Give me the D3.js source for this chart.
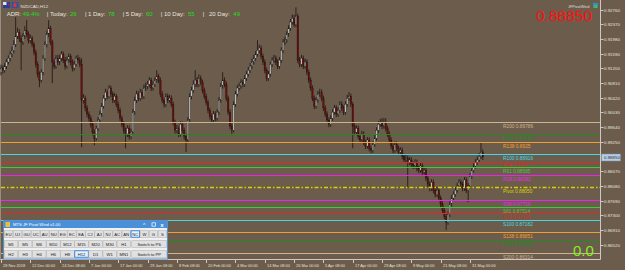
<!DOCTYPE html>
<html><head><meta charset="utf-8">
<script src="https://cdn.jsdelivr.net/npm/d3@7"></script>
<style>html,body{margin:0;padding:0;background:#6c5c4c;overflow:hidden}svg{display:block}</style>
</head><body><svg id="c" width="625" height="270"></svg>
<script>
// ---------- DATA ----------
const symbol = "NZDCAD,H12";
const firstOpen = 0.9110;
const closes = [
.9121,.9115,.9126,.9137,.9147,.9158,.9168,.9184,.9206,.9216,.9200,.9190,.9206,.9221,.9211,.9195,
.9200,.9184,.9163,.9131,.9105,.9089,.9110,.9147,.9184,.9211,.9227,.9190,.9137,.9126,.9147,.9137,
.9147,.9158,.9142,.9126,.9142,.9152,.9137,.9121,.9131,.9147,.9142,.9131,.9036,.9041,.9015,.8999,
.8988,.8972,.8951,.8935,.8961,.8983,.8999,.9020,.9041,.9057,.9046,.9068,.9052,.9036,.9046,.9025,
.9009,.8988,.8972,.8956,.8946,.8961,.8940,.8951,.9004,.9036,.9052,.9041,.9057,.9046,.9068,.9073,
.9078,.9089,.9068,.9078,.9089,.9099,.9089,.9052,.9036,.9025,.9046,.9036,.9041,.9025,.8977,.8956,
.8961,.8946,.8972,.8956,.8940,.8930,.8983,.9046,.9062,.9078,.9089,.9078,.9094,.9083,.9062,.9046,
.9030,.9009,.8993,.8983,.8999,.8988,.9004,.9036,.9073,.9089,.9078,.9041,.9004,.8967,.8956,.9025,
.9052,.9068,.9073,.9083,.9078,.9094,.9105,.9115,.9126,.9137,.9147,.9158,.9168,.9174,.9152,.9137,
.9115,.9094,.9105,.9131,.9142,.9147,.9137,.9126,.9142,.9168,.9190,.9195,.9211,.9227,.9243,.9253,
.9237,.9259,.9142,.9131,.9147,.9126,.9137,.9110,.9089,.9068,.9041,.9020,.9036,.9052,.9057,.9041,
.9015,.8999,.8983,.8972,.8988,.9004,.9015,.8999,.9009,.9025,.9015,.9004,.9025,.9041,.9046,.9025,
.8967,.8951,.8961,.8940,.8930,.8946,.8924,.8914,.8930,.8908,.8903,.8919,.8935,.8956,.8972,.8977,
.8967,.8977,.8961,.8946,.8930,.8914,.8903,.8919,.8908,.8898,.8903,.8887,.8877,.8882,.8871,.8877,
.8866,.8861,.8871,.8855,.8850,.8861,.8845,.8850,.8829,.8813,.8802,.8818,.8797,.8786,.8797,.8776,
.8760,.8744,.8728,.8712,.8733,.8760,.8776,.8786,.8797,.8808,.8818,.8813,.8802,.8824,.8797,.8808,.8834,.8850,.8861,.8871,.8877,.8887,.8898,.8885];
const highs = [
.9130,.9128,.9134,.9145,.9155,.9166,.9178,.9195,.9256,.9228,.9224,.9208,.9214,.9232,.9248,.9218,
.9210,.9206,.9190,.9170,.9138,.9112,.9118,.9155,.9192,.9220,.9248,.9233,.9196,.9146,.9155,.9156,
.9156,.9166,.9165,.9150,.9151,.9160,.9158,.9144,.9140,.9154,.9156,.9150,.9147,.9052,.9048,.9022,
.9006,.8995,.8980,.8958,.8968,.8991,.9008,.9028,.9049,.9066,.9064,.9076,.9074,.9059,.9055,.9052,
.9032,.9016,.8995,.8980,.8963,.8969,.8968,.8960,.9012,.9045,.9061,.9059,.9066,.9064,.9077,.9082,
.9087,.9097,.9095,.9086,.9097,.9115,.9106,.9096,.9060,.9043,.9054,.9053,.9050,.9048,.9031,.8984,
.8970,.8968,.8980,.8979,.8963,.8947,.8991,.9054,.9071,.9088,.9115,.9097,.9104,.9101,.9090,.9069,
.9053,.9037,.9016,.9000,.9007,.9006,.9012,.9044,.9081,.9110,.9096,.9085,.9048,.9011,.8974,.9033,
.9060,.9076,.9082,.9091,.9090,.9102,.9113,.9124,.9134,.9146,.9156,.9166,.9195,.9183,.9181,.9159,
.9144,.9122,.9113,.9139,.9150,.9156,.9154,.9144,.9150,.9176,.9198,.9204,.9219,.9235,.9251,.9263,
.9262,.9282,.9265,.9150,.9156,.9154,.9145,.9144,.9117,.9096,.9075,.9048,.9044,.9060,.9066,.9064,
.9048,.9022,.9006,.8990,.8996,.9012,.9023,.9022,.9017,.9033,.9032,.9022,.9033,.9050,.9057,.9053,
.9031,.8974,.8969,.8968,.8947,.8954,.8953,.8931,.8938,.8937,.8915,.8927,.8943,.8964,.8980,.8986,
.8988,.8988,.8988,.8968,.8953,.8937,.8921,.8927,.8926,.8915,.8911,.8910,.8894,.8890,.8889,.8885,
.8884,.8873,.8879,.8878,.8862,.8869,.8868,.8858,.8857,.8836,.8820,.8826,.8825,.8804,.8805,.8804,
.8783,.8767,.8751,.8735,.8741,.8768,.8784,.8794,.8805,.8816,.8826,.8825,.8820,.8832,.8831,.8816,.8842,.8858,.8869,.8879,.8886,.8896,.8922,.8905];
const lows = [
.9101,.9106,.9109,.9118,.9130,.9139,.9150,.9160,.9177,.9198,.9190,.9115,.9182,.9198,.9203,.9186,
.9187,.9176,.9155,.9122,.9096,.9070,.9082,.9102,.9140,.9176,.9203,.9182,.9081,.9118,.9119,.9128,
.9129,.9139,.9134,.9117,.9120,.9135,.9128,.9112,.9114,.9125,.9133,.9123,.8911,.9027,.9006,.8990,
.8979,.8963,.8942,.8916,.8928,.8954,.8976,.8992,.9013,.9034,.9038,.9040,.9044,.9028,.9029,.9017,
.9001,.8980,.8964,.8947,.8908,.8938,.8931,.8932,.8944,.8997,.9028,.9033,.9034,.9038,.9039,.9060,
.9065,.9070,.9060,.9061,.9071,.9082,.9081,.9044,.9028,.9016,.9018,.9028,.9029,.9017,.8969,.8947,
.8948,.8938,.8939,.8948,.8931,.8898,.8924,.8976,.9038,.9055,.9071,.9070,.9071,.9075,.9054,.9038,
.9022,.9001,.8985,.8975,.8976,.8980,.8981,.8997,.9029,.9066,.9070,.9033,.8996,.8959,.8943,.8950,
.9018,.9045,.9061,.9066,.9070,.9071,.9087,.9098,.9108,.9118,.9130,.9140,.9151,.9160,.9144,.9129,
.9107,.9086,.9087,.9098,.9124,.9135,.9129,.9118,.9119,.9135,.9161,.9182,.9188,.9204,.9220,.9236,
.9229,.9230,.9134,.9123,.9124,.9118,.9119,.9102,.9081,.9060,.9033,.9012,.9013,.9029,.9045,.9033,
.9007,.8991,.8975,.8964,.8965,.8981,.8997,.8991,.8992,.9002,.9007,.8996,.8997,.9018,.9034,.9017,
.8908,.8943,.8944,.8932,.8922,.8923,.8916,.8906,.8907,.8900,.8895,.8896,.8912,.8928,.8949,.8965,
.8959,.8960,.8953,.8938,.8922,.8906,.8895,.8896,.8900,.8890,.8891,.8879,.8869,.8870,.8802,.8864,
.8858,.8853,.8854,.8847,.8842,.8843,.8837,.8838,.8821,.8805,.8794,.8795,.8789,.8778,.8779,.8768,
.8752,.8736,.8720,.8691,.8705,.8726,.8753,.8769,.8779,.8790,.8801,.8805,.8794,.8795,.8789,.8765,.8801,.8827,.8843,.8854,.8864,.8870,.8880,.8877];
const opens = closes.map((c,i)=> i===0 ? firstOpen : closes[i-1]);

const timeLabels = ["28 Nov 2018","12 Dec 00:00","24 Dec 08:00","7 Jan 00:00","17 Jan 00:00","29 Jan 08:00","8 Feb 08:00","20 Feb 00:00","4 Mar 00:00","14 Mar 08:00","26 Mar 00:00","5 Apr 08:00","17 Apr 00:00","29 Apr 08:00","9 May 00:00","21 May 08:00","31 May 00:00"];
const timeLabelBars = [0,16,32,48,64,80,96,112,128,144,160,176,192,208,224,240,256];
const priceTicks = [0.92760,0.92370,0.91980,0.91590,0.91200,0.90810,0.90420,0.90030,0.89640,0.89250,0.88470,0.88080,0.87690,0.87300,0.86910,0.86520];
const currentPrice = 0.88850;

const levelNames = ["R200","R161","R138","R100","R78","R61","R38","Pivot","S38","S61","S78","S100","S138","S161","S200"];
const levelValues = [0.89786,0.89455,0.8925,0.88916,0.8873,0.88585,0.88382,0.88050,0.87719,0.87514,0.87369,0.87182,0.86851,0.86646,0.86314];
const levelLabels = ["0.89786","0.89455","0.8925","0.88916","0.8873","0.88585","0.88382","0.88050","0.87719","0.87514","0.87369","0.87182","0.86851","0.86646","0.86314"];

const adrNames = ["ADR:","Today:","1 Day:","5 Day:","10 Day:","20 Day:"];
const adrValues = ["49.4%","26","78","60","55","49"];

const pairButtons = ["EU","UJ","GU","UC","AU","NU","EG","EC","EA","CJ","AJ","NJ","AC","AN","NC","W","G","S"];
const tfRow1 = ["M1","M5","M6","M10","M12","M15","M20","M30","H1","Switch to PS"];
const tfRow2 = ["H2","H3","H4","H6","H8","H12","D1","W1","MN1","Switch to PP"];
const activePair = "NC", activeTF = "H12";

// ---------- STYLE ----------
const W=625,H=270, BG="#6c5c4c", FONT="'Liberation Sans', Arial, sans-serif";
const levelColors = {200:"#cdb48e",161:"#228b22",138:"#efa032",100:"#45d8e0",78:"#d62c2c",61:"#36d036",38:"#ee22ee"};
function levelColor(n){ if(n==="Pivot") return "#d6d200"; return levelColors[+n.slice(1)]; }

const svg = d3.select("#c");
svg.append("rect").attr("width",W).attr("height",H).attr("fill",BG);

const x = d3.scaleLinear().domain([0,263]).range([1, 1+263*1.832]);
const y = d3.scaleLinear().domain([0.86520,0.92760]).range([244.8,9.6]);
const PR = 600.5; // plot right edge
const PB = 259.5; // plot bottom

// frame
svg.append("line").attr("x1",PR).attr("x2",PR).attr("y1",0).attr("y2",PB).attr("stroke","#cfc8c0").attr("stroke-width",1);
svg.append("line").attr("x1",0).attr("x2",PR).attr("y1",PB).attr("y2",PB).attr("stroke","#cfc8c0").attr("stroke-width",1);
svg.append("line").attr("x1",0.5).attr("x2",0.5).attr("y1",0).attr("y2",PB).attr("stroke","#9a8e80").attr("stroke-width",1);

// candles
const bars = d3.range(closes.length).map(i=>({i,o:opens[i],h:highs[i],l:lows[i],c:closes[i]}));
const cg = svg.append("g");
cg.selectAll("line.w").data(bars).join("line")
  .attr("x1",d=>x(d.i)).attr("x2",d=>x(d.i))
  .attr("y1",d=>y(d.h)).attr("y2",d=>y(d.l))
  .attr("stroke","#181410").attr("stroke-width",0.8);
cg.selectAll("rect.b").data(bars).join("rect")
  .attr("x",d=>x(d.i)-0.75).attr("width",1.5)
  .attr("y",d=>y(Math.max(d.o,d.c)))
  .attr("height",d=>Math.max(0.8, Math.abs(y(d.o)-y(d.c))))
  .attr("fill",d=>d.c>=d.o?"#bdbdbd":"#6e0c0c")
  .attr("stroke","#181410").attr("stroke-width",0.3);

// pivot levels
const lg = svg.append("g");
levelNames.forEach((n,k)=>{
  const yy = Math.round(y(levelValues[k]))+0.5;
  const col = levelColor(n);
  const ln = lg.append("line").attr("x1",1).attr("x2",PR-0.5).attr("y1",yy).attr("y2",yy)
    .attr("stroke",col).attr("stroke-width",1);
  if(n==="Pivot") ln.attr("stroke-dasharray","4,2,1.5,2").attr("stroke-width",1.3);
  lg.append("text").attr("x",503).attr("y",yy+5.5).text(n+" "+levelLabels[k])
    .attr("fill",col).attr("font-family",FONT).attr("font-size",4.8);
});

// y axis
const yg = svg.append("g");
priceTicks.forEach(v=>{
  const yy = Math.round(y(v))+0.5;
  yg.append("line").attr("x1",PR).attr("x2",PR+3).attr("y1",yy).attr("y2",yy).attr("stroke","#cfc8c0");
  yg.append("text").attr("x",PR+3.5).attr("y",yy+1.6).text(v.toFixed(5))
    .attr("fill","#e6e2dc").attr("font-family",FONT).attr("font-size",4.4);
});
{
  const yy = Math.round(y(currentPrice))+0.5;
  yg.append("rect").attr("x",PR+1).attr("y",yy-3.5).attr("width",19).attr("height",7).attr("fill","#b8cce4").attr("stroke","#6f8fb8").attr("stroke-width",0.5);
  yg.append("text").attr("x",PR+3.5).attr("y",yy+1.6).text(currentPrice.toFixed(5))
    .attr("fill","#303030").attr("font-family",FONT).attr("font-size",4.4);
}

// x axis
const xg = svg.append("g");
timeLabelBars.forEach((b,k)=>{
  const xx = Math.round(x(b))+0.5;
  xg.append("line").attr("x1",xx).attr("x2",xx).attr("y1",PB).attr("y2",PB+3.5).attr("stroke","#cfc8c0");
  xg.append("text").attr("x",xx+1.5).attr("y",267).text(timeLabels[k])
    .attr("fill","#e6e2dc").attr("font-family",FONT).attr("font-size",3.9);
});

// title + flags
svg.append("rect").attr("x",3).attr("y",2).attr("width",7).attr("height",6).attr("fill","#2b3f9a");
svg.append("rect").attr("x",3).attr("y",2).attr("width",3.5).attr("height",3).attr("fill","#e0e0f0");
svg.append("rect").attr("x",8).attr("y",4).attr("width",1.2).attr("height",1.2).attr("fill","#e02020");
svg.append("rect").attr("x",11.5).attr("y",2).attr("width",7).attr("height",6).attr("fill","#3050b0");
svg.append("rect").attr("x",13.5).attr("y",3).attr("width",3).attr("height",4).attr("fill","#e83030");
svg.append("text").attr("x",20.5).attr("y",7.5).text(symbol).attr("fill","#e8e4de").attr("font-family",FONT).attr("font-size",4.4);

// ADR line
const adrX = [6.7,50,88,125.7,164,209];
const adrVX = [22.7,70,108,146,188,233.3];
const barX = [46.7,85,122.7,160.7,202.7];
adrNames.forEach((n,k)=>{
  svg.append("text").attr("x",adrX[k]).attr("y",16).text(n).attr("fill","#e8e4de").attr("font-family",FONT).attr("font-size",6);
  svg.append("text").attr("x",adrVX[k]).attr("y",16).text(adrValues[k]).attr("fill","#22dd22").attr("font-family",FONT).attr("font-size",6);
});
barX.forEach(bx=>svg.append("text").attr("x",bx).attr("y",16).text("|").attr("fill","#e8e4de").attr("font-family",FONT).attr("font-size",6));

// top right
svg.append("text").attr("x",536).attr("y",21).text(currentPrice.toFixed(5)).attr("fill","#ff1010").attr("font-family",FONT).attr("font-size",15.5);
svg.append("text").attr("x",568).attr("y",7.5).text("JFPivotWind").attr("fill","#e0dcd6").attr("font-family",FONT).attr("font-size",3.8);
svg.append("rect").attr("x",593).attr("y",3).attr("width",5).attr("height",5).attr("fill","#3a8ad0");
svg.append("rect").attr("x",594).attr("y",5).attr("width",3).attr("height",3).attr("fill","#40c040");
// bottom right
svg.append("text").attr("x",573).attr("y",255.5).text("0.0").attr("fill","#84f020").attr("font-family",FONT).attr("font-size",15);

// panel
const pg = svg.append("g");
pg.append("rect").attr("x",3.5).attr("y",220.5).attr("width",164).attr("height",38.5).attr("fill","#f0f0f0").attr("stroke","#5a8fd0").attr("stroke-width",1);
pg.append("rect").attr("x",4).attr("y",221).attr("width",163).attr("height",7).attr("fill","#4a90d9");
pg.append("rect").attr("x",5.5).attr("y",222).attr("width",4.5).attr("height",5).attr("fill","#e8c040");
pg.append("text").attr("x",13).attr("y",226.3).text("MTS JF Pivot Wind v1.00").attr("fill","#ffffff").attr("font-family",FONT).attr("font-size",4.2);
pg.append("text").attr("x",143).attr("y",227).text("^").attr("fill","#fff").attr("font-family",FONT).attr("font-size",5);
pg.append("rect").attr("x",152).attr("y",222.8).attr("width",3.6).attr("height",3.4).attr("fill","none").attr("stroke","#fff").attr("stroke-width",0.7);
pg.append("text").attr("x",160.5).attr("y",227).text("x").attr("fill","#fff").attr("font-family",FONT).attr("font-size",5.5).attr("font-weight","bold");
function btn(x0,y0,w,h,label,active){
  pg.append("rect").attr("x",x0+0.25).attr("y",y0+0.25).attr("width",w-0.5).attr("height",h-0.5)
    .attr("fill",active?"#e5f1fb":"#e1e1e1").attr("stroke",active?"#2a7ad6":"#a8a8a8").attr("stroke-width",active?0.9:0.5);
  pg.append("text").attr("x",x0+w/2).attr("y",y0+h/2+1.5).attr("text-anchor","middle").text(label)
    .attr("fill","#202020").attr("font-family",FONT).attr("font-size",4.2);
}
const pw = 163/pairButtons.length;
pairButtons.forEach((b,k)=>btn(4+k*pw,230.5,pw,7,b,b===activePair));
[tfRow1,tfRow2].forEach((row,r)=>{
  const yy = 240.5 + r*10;
  row.forEach((b,k)=>{
    if(k<9) btn(4+k*14.1,yy,14.1,7,b,b===activeTF);
    else btn(131.5,yy,35.5,7,b,false);
  });
});
</script>
</body></html>
